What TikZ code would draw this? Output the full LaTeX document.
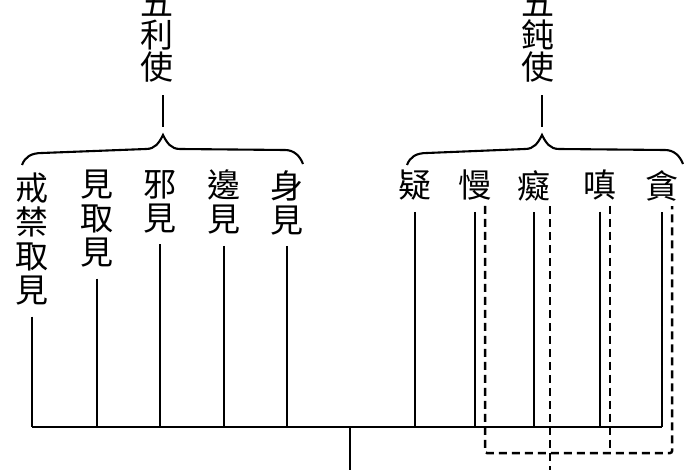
\documentclass[tikz,border=0pt]{standalone}
\usepackage{fontspec}
\newfontfamily\cjk{Noto Sans CJK TC}

\tikzset{
    item/.style={font=\cjk\fontsize{33}{34}\selectfont, inner sep=0pt, align=center, anchor=north},
    heading/.style={font=\cjk\fontsize{33}{32}\selectfont, inner sep=0pt, align=center, anchor=south},
    tie/.style={line width=2.1pt, shorten <=11pt},
    loopline/.style={line width=2.5pt, dash pattern=on 8pt off 5pt, rounded corners=2pt},
}

% left end, tip and right end of a curly brace
\newcommand{\curlybrace}[3]{%
    \draw[line width=2.1pt] (#1,165) .. controls (#1+3,157) and (#1+9,153) .. (#1+20,153)
        -- (#2-17,149) .. controls (#2-8,149) and (#2-4,143) .. (#2,135)
        .. controls (#2+4,143) and (#2+8,149) .. (#2+17,149)
        -- (#3-18,150) .. controls (#3-9,150) and (#3-3,156) .. (#3,164);}

\begin{document}
\begin{tikzpicture}[x=1pt,y=-1pt]
    \useasboundingbox (0,0) rectangle (700,470);

    % headings and braces
    \node[heading] (lititle) at (157,82) {五\\利\\使};
    \node[heading] (dntitle) at (538,82) {五\\鈍\\使};
    \coordinate (litip) at (163,135);
    \coordinate (dntip) at (542,135);
    \curlybrace{22}{163}{303}
    \curlybrace{407}{542}{683}
    \draw[tie, shorten <=8pt, shorten >=13pt] (litip) -- (litip |- lititle.south);
    \draw[tie, shorten <=8pt, shorten >=13pt] (dntip) -- (dntip |- dntitle.south);

    % the ten
    \node[item] (jie)  at (32,173)  {戒\\禁\\取\\見};
    \node[item] (jian) at (97,170)  {見\\取\\見};
    \node[item] (xie)  at (160,170) {邪\\見};
    \node[item] (bian) at (224,170) {邊\\見};
    \node[item] (shen) at (287,170) {身\\見};
    \node[item] (yi)   at (415,170) {疑};
    \node[item] (man)  at (475,170) {慢};
    \node[item] (chi)  at (534,170) {癡};
    \node[item] (chen) at (600,170) {嗔};
    \node[item] (tan)  at (662,170) {貪};

    \coordinate (busL) at (32,427);
    \coordinate (busR) at (662,427);
    \coordinate (hub) at (350,427);
    \coordinate (root) at (350,470);
    \draw[tie, shorten <=0pt] (busL) -- (busR);
    \draw[tie, shorten <=0pt] (hub) -- (root);
    \foreach \n in {jie,jian,xie,bian,shen,yi,man,chi,chen,tan}
        \draw[tie] (\n.south) -- (\n.south |- busL);

    % dashed loop
    \coordinate (loop) at (0,453);
    \coordinate (manD)  at ([xshift=10pt,yshift=-5pt]man.south);
    \coordinate (chiD)  at ([xshift=16pt,yshift=-5pt]chi.south);
    \coordinate (chenD) at ([xshift=10pt,yshift=-5pt]chen.south);
    \coordinate (tanD)  at ([xshift=10pt,yshift=-5pt]tan.south);
    \draw[loopline] (manD) |- (loop -| tanD) -- (tanD);
    \draw[loopline] (chenD) -- (chenD |- loop);
    \draw[loopline] (chiD) -- (chiD |- root);
\end{tikzpicture}
\end{document}
